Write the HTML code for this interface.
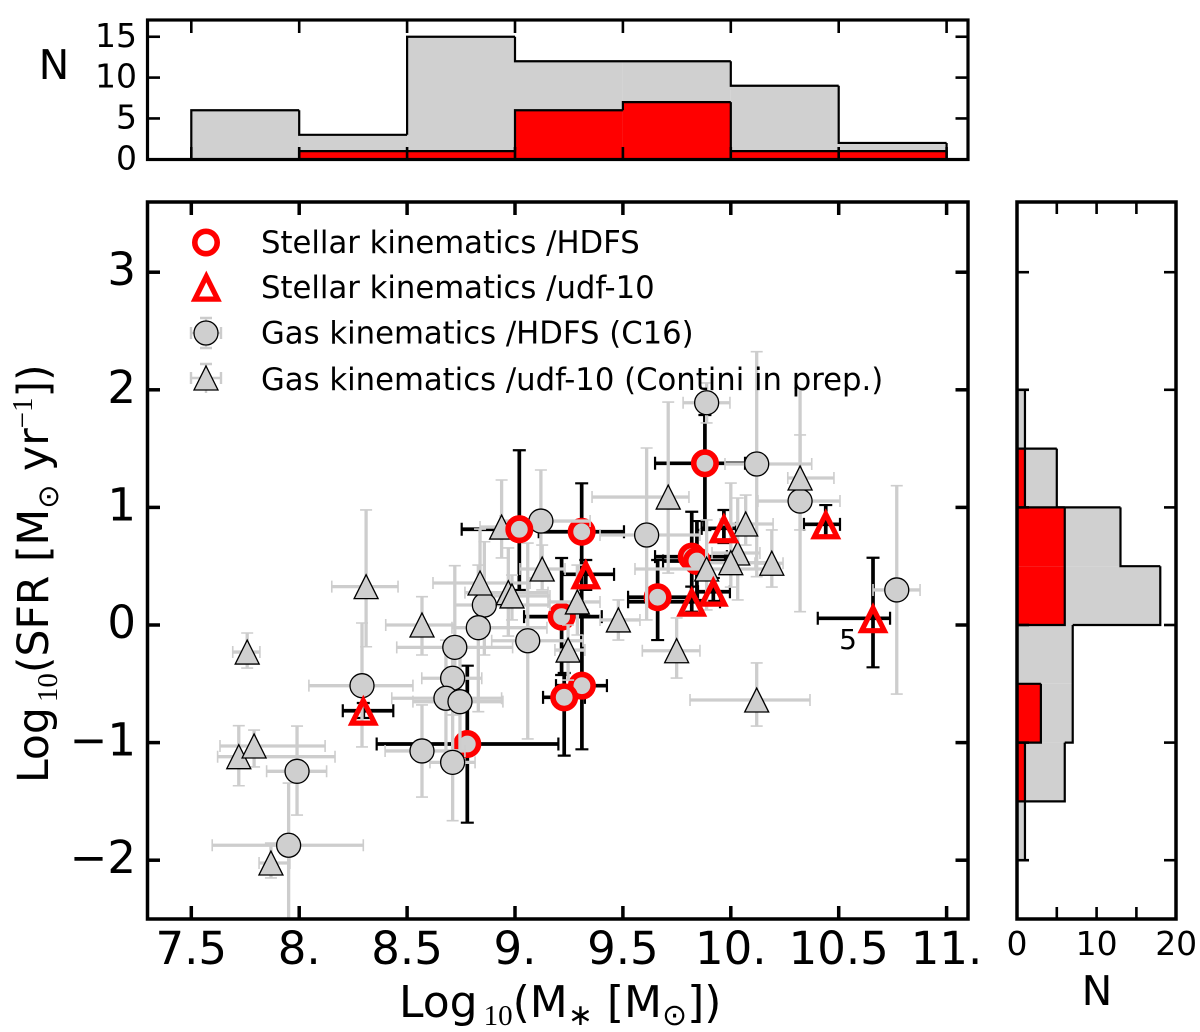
<!DOCTYPE html>
<html lang="en">
<head>
<meta charset="utf-8">
<title>Stellar mass vs SFR</title>
<style>
html,body{margin:0;padding:0;background:#fff;}
svg{display:block;}
text{font-family:"DejaVu Sans","Liberation Sans",sans-serif;fill:#000;}
.serif{font-family:"Liberation Serif",serif;}
</style>
</head>
<body>
<svg id="chart" xmlns="http://www.w3.org/2000/svg" width="1200" height="1032" viewBox="0 0 1200 1032">
  <defs>
    <clipPath id="main-clip"><rect x="147.5" y="202" width="820.5" height="717"/></clipPath>
  </defs>
  <rect x="0" y="0" width="1200" height="1032" fill="#fff"/>
  <g id="top-hist"></g>
  <g id="right-hist"></g>
  <g id="plot" clip-path="url(#main-clip)"></g>
  <g id="ticks"></g>
  <g fill="none" stroke="#000">
    <rect x="147.5" y="202" width="820.5" height="717" stroke-width="3.5"/>
    <rect x="147.5" y="20" width="820.5" height="139.5" stroke-width="3.2"/>
    <rect x="1017" y="202" width="159" height="717" stroke-width="3.5"/>
  </g>
  <g id="labels"></g>
  <text x="399" y="1017" font-size="44">Log<tspan class="serif" font-size="29" dy="8" dx="6">10</tspan><tspan dy="-8">(M</tspan><tspan font-size="30" dy="8">∗</tspan><tspan dy="-8"> [M</tspan><tspan font-size="30" dy="8">⊙</tspan><tspan dy="-8">])</tspan></text>
  <text transform="translate(48,783) rotate(-90)" font-size="42.5">Log<tspan class="serif" font-size="29" dy="9" dx="5">10</tspan><tspan dy="-9">(SFR [M</tspan><tspan font-size="29" dy="10">⊙</tspan><tspan dy="-10"> yr</tspan><tspan class="serif" font-size="29" dy="-16">−1</tspan><tspan dy="16">])</tspan></text>
  <text x="54" y="79" font-size="41" text-anchor="middle">N</text>
  <text x="1097" y="1005" font-size="41" text-anchor="middle">N</text>
  <text x="848" y="649" font-size="28" text-anchor="middle">5</text>
  <g>
    <g>
      <circle cx="206" cy="242.5" r="11.2" fill="none" stroke="#f00" stroke-width="5.6"/>
      <text x="261" y="253" font-size="30.7">Stellar kinematics /HDFS</text>
    </g>
    <g>
      <path d="M195,299.1 H217.6 L206.3,276.5 Z" fill="none" stroke="#f00" stroke-width="5.2"/>
      <text x="261" y="298" font-size="30.7">Stellar kinematics /udf-10</text>
    </g>
    <g>
      <path d="M191,333 H221 M206,318 V348 M191,327 V339 M221,327 V339 M200,318 H212 M200,348 H212" fill="none" stroke="#ccc" stroke-width="2.4"/>
      <circle cx="206" cy="333" r="12" fill="#cfcfcf" stroke="#000" stroke-width="1.3"/>
      <text x="261" y="343.5" font-size="30.7">Gas kinematics /HDFS (C16)</text>
    </g>
    <g>
      <path d="M191,378 H221 M206,364 V393 M191,372 V384 M221,372 V384 M200,364 H212" fill="none" stroke="#ccc" stroke-width="2.4"/>
      <path d="M194,390 H218 L206,366 Z" fill="#cfcfcf" stroke="#000" stroke-width="1.3"/>
      <text x="261" y="390" font-size="30.7">Gas kinematics /udf-10 (Contini in prep.)</text>
    </g>
  </g>
</svg>
<script>
// ---------- data (log stellar mass, log SFR, and error-bar bounds) ----------
const stellarHdfsMass   = [9.02, 9.309, 9.88, 9.819, 9.843, 9.661, 9.216, 9.31, 9.228, 8.779];
const stellarHdfsSfr    = [0.814, 0.793, 1.375, 0.581, 0.544, 0.236, 0.071, -0.516, -0.615, -1.012];
const stellarHdfsMassLo = [8.753, 9.11, 9.649, 9.649, 9.686, 9.524, 9.042, 9.19, 9.13, 8.359];
const stellarHdfsMassHi = [9.116, 9.505, 10.066, 9.982, 9.973, 9.811, 9.402, 9.426, 9.324, 9.201];
const stellarHdfsSfrHi  = [1.486, 1.205, 1.786, 0.963, 0.884, 0.553, 0.57, 0.085, -0.408, -0.346];
const stellarHdfsSfrLo  = [0.298, 0.128, 0.808, 0.204, 0.213, -0.128, -0.425, -1.057, -1.111, -1.681];

const stellarUdfMass   = [8.297, 9.328, 9.819, 9.919, 9.968, 10.44, 10.659];
const stellarUdfSfr    = [-0.729, 0.431, 0.198, 0.283, 0.822, 0.856, 0.057];
const stellarUdfMassLo = [8.202, 9.218, 9.524, 9.848, 9.865, 10.339, 10.403];
const stellarUdfMassHi = [8.436, 9.459, 9.95, 9.996, 10.024, 10.506, 10.738];
const stellarUdfSfrHi  = [-0.663, 0.553, 0.326, 0.4, 0.978, 1.02, 0.572];
const stellarUdfSfrLo  = [-0.791, 0.298, 0.113, 0.187, 0.697, 0.751, -0.36];

const gasHdfsMass   = [9.888, 10.12, 10.321, 9.61, 10.769, 9.12, 8.858, 8.83, 9.059, 8.721, 8.711, 8.68, 8.745, 8.291, 8.569, 8.711, 7.99, 7.951];
const gasHdfsSfr    = [1.89, 1.369, 1.054, 0.765, 0.298, 0.884, 0.17, -0.023, -0.134, -0.19, -0.453, -0.623, -0.652, -0.516, -1.071, -1.168, -1.244, -1.873];
const gasHdfsMassLo = [9.779, 9.973, 10.126, 9.394, 10.659, 8.931, 8.722, 8.708, 8.892, 8.452, 8.568, 8.429, 8.527, 8.045, 8.398, 8.606, 7.849, 7.597];
const gasHdfsMassHi = [9.996, 10.375, 10.506, 9.857, 10.877, 9.348, 9.162, 9.148, 9.315, 8.989, 8.846, 8.938, 8.944, 8.527, 8.768, 8.815, 8.127, 8.297];
const gasHdfsSfrHi  = [2.058, 2.324, 1.616, 1.505, 1.185, 1.318, 0.708, 0.51, 0.697, 0.504, -0.128, -0.128, -0.213, 0.017, -0.68, -0.765, -0.859, -1.344];
const gasHdfsSfrLo  = [1.718, 0.411, 0.113, 0.043, -0.587, 0.468, -0.255, -0.737, -0.969, -0.638, -0.765, -1.148, -1.063, -1.037, -1.463, -1.664, -1.616, -2.594];

const gasUdfMass   = [7.759, 8.31, 8.569, 8.838, 8.938, 8.969, 8.986, 9.126, 9.289, 9.246, 9.479, 9.749, 10.12, 9.71, 10.321, 10.069, 10.032, 10.0, 10.19, 9.888, 7.72, 7.791, 7.869];
const gasUdfSfr    = [-0.23, 0.326, 0, 0.357, 0.833, 0.275, 0.247, 0.476, 0.196, -0.213, 0.043, -0.219, -0.638, 1.088, 1.25, 0.859, 0.612, 0.53, 0.525, 0.476, -1.12, -1.029, -2.024];
const gasUdfMassLo = [7.692, 8.151, 8.401, 8.62, 8.838, 8.768, 8.815, 9.023, 9.153, 9.185, 9.394, 9.59, 9.811, 9.357, 10.264, 9.95, 9.913, 9.857, 10.112, 9.556, 7.622, 7.633, 7.814];
const gasUdfMassHi = [7.818, 8.458, 8.722, 9.07, 9.023, 9.153, 9.162, 9.232, 9.394, 9.324, 9.579, 9.857, 10.367, 9.806, 10.478, 10.196, 10.135, 10.196, 10.242, 10.228, 8.166, 8.12, 7.957];
const gasUdfSfrHi  = [-0.068, 0.978, 0.241, 0.816, 1.233, 0.655, 0.425, 0.68, 0.51, 0, 0.213, 0.06, -0.323, 1.896, 2.015, 1.105, 1.08, 1.207, 0.808, 0.893, -0.856, -0.893, -1.854];
const gasUdfSfrLo  = [-0.366, -0.185, -0.255, 0, 0.57, -0.094, 0.043, 0.298, -0.085, -0.468, -0.128, -0.451, -0.859, 0.442, 0.808, 0.68, 0.213, 0.323, 0.323, 0.128, -1.367, -1.207, -2.151];

const massBinEdges  = [7.5, 8, 8.5, 9, 9.5, 10, 10.5, 11];
const massCountsAll = [6, 3, 15, 12, 12, 9, 2];
const massCountsStellar = [0, 1, 1, 6, 7, 1, 1];

const sfrBinEdges  = [-2, -1.5, -1, -0.5, 0, 0.5, 1, 1.5, 2];
const sfrCountsAll = [1, 6, 7, 7, 18, 13, 5, 1];
const sfrCountsStellar = [0, 1, 3, 0, 6, 6, 1, 0];

const massTicks = [7.5, 8, 8.5, 9, 9.5, 10, 10.5, 11];
const massTickLabels = ["7.5", "8.", "8.5", "9.", "9.5", "10.", "10.5", "11."];
const sfrTicks = [3, 2, 1, 0, -1, -2];
const sfrTickLabels = ["3", "2", "1", "0", "−1", "−2"];
const countTicks = [0, 5, 10, 15];
const countTickLabels = ["0", "5", "10", "15"];
const rightCountTicks = [5, 10, 15];
const rightCountLabelValues = [0, 10, 20];
const rightCountLabels = ["0", "10", "20"];

// ---------- axis functions ----------
const xScale = v => 191.3 + (v - 7.5) * 215.8;
const yScale = v => 625 - v * 117.6;
const topCountY = v => 159.3 - v * 8.17;
const rightCountX = v => 1017 + v * 7.96;

const NS = 'http://www.w3.org/2000/svg';
function mk(parent, tag, attrs) {
  const e = document.createElementNS(NS, tag);
  for (const k in attrs) e.setAttribute(k, attrs[k]);
  parent.appendChild(e);
  return e;
}
const plot = document.getElementById('plot');
const tickLayer = document.getElementById('ticks');
const labelLayer = document.getElementById('labels');
const topHist = document.getElementById('top-hist');
const rightHist = document.getElementById('right-hist');

function errorPath(x, y, xl, xh, yh, yl, cap) {
  const X = xScale(x), Y = yScale(y), XL = xScale(xl), XH = xScale(xh), YH = yScale(yh), YL = yScale(yl);
  return {
    lines: `M${XL},${Y}H${XH}M${X},${YH}V${YL}`,
    caps: `M${XL},${Y - cap}V${Y + cap}M${XH},${Y - cap}V${Y + cap}M${X - cap},${YH}H${X + cap}M${X - cap},${YL}H${X + cap}`
  };
}

function drawErrors(xs, ys, xls, xhs, yhs, yls, color, lw, capw, cap, label) {
  xs.forEach((x, i) => {
    const p = errorPath(x, ys[i], xls[i], xhs[i], yhs[i], yls[i], cap);
    const line = mk(plot, 'path', {d: p.lines, fill: 'none', stroke: color, 'stroke-width': lw});
    
    
    const caps = mk(plot, 'path', {d: p.caps, fill: 'none', stroke: color, 'stroke-width': capw});
    
    
  });
}

function drawCircles(xs, ys, r, fill, stroke, sw, label) {
  xs.forEach((x, i) => {
    const c = mk(plot, 'circle', {cx: xScale(x), cy: yScale(ys[i]), r: r, fill: fill, stroke: stroke, 'stroke-width': sw});
    
    
  });
}

function drawTriangles(xs, ys, halfW, up, down, fill, stroke, sw, label) {
  xs.forEach((x, i) => {
    const X = xScale(x), Y = yScale(ys[i]);
    const t = mk(plot, 'path', {d: `M${X - halfW},${Y + down}H${X + halfW}L${X},${Y - up}Z`, fill: fill, stroke: stroke, 'stroke-width': sw});
    
    
  });
}

// ---------- scatter ----------
drawErrors(stellarHdfsMass, stellarHdfsSfr, stellarHdfsMassLo, stellarHdfsMassHi, stellarHdfsSfrHi, stellarHdfsSfrLo, '#000', 3.7, 2.2, 6.5, 'stellar-hdfs');
drawErrors(stellarUdfMass, stellarUdfSfr, stellarUdfMassLo, stellarUdfMassHi, stellarUdfSfrHi, stellarUdfSfrLo, '#000', 3.7, 2.2, 6.5, 'stellar-udf');
drawCircles(stellarHdfsMass, stellarHdfsSfr, 11.2, '#cfcfcf', '#f00', 5.6, 'stellar-hdfs');
drawErrors(gasHdfsMass, gasHdfsSfr, gasHdfsMassLo, gasHdfsMassHi, gasHdfsSfrHi, gasHdfsSfrLo, '#cdcdcd', 3.3, 1.6, 6, 'gas-hdfs');
drawErrors(gasUdfMass, gasUdfSfr, gasUdfMassLo, gasUdfMassHi, gasUdfSfrHi, gasUdfSfrLo, '#cdcdcd', 3.3, 1.6, 6, 'gas-udf');
drawCircles(gasHdfsMass, gasHdfsSfr, 12, '#cfcfcf', '#000', 1.3, 'gas-hdfs');
drawTriangles(gasUdfMass, gasUdfSfr, 12, 12, 12, '#cfcfcf', '#000', 1.3, 'gas-udf');
drawCircles(stellarHdfsMass.slice(0, 1), stellarHdfsSfr.slice(0, 1), 11.2, '#cfcfcf', '#f00', 5.6, 'stellar-hdfs-front');
drawTriangles(stellarUdfMass, stellarUdfSfr, 11.3, 10.2, 12.4, 'none', '#f00', 5.2, 'stellar-udf');

// ---------- histograms ----------
function drawTopHist(edges, counts, fill, label) {
  counts.forEach((n, i) => {
    if (!n) return;
    const b = mk(topHist, 'rect', {
      x: xScale(edges[i]), y: topCountY(n),
      width: xScale(edges[i + 1]) - xScale(edges[i]), height: topCountY(0) - topCountY(n),
      fill: fill, stroke: 'none'
    });
    
    
  });
  let d = '';
  counts.forEach((n, i) => {
    const prev = i ? counts[i - 1] : 0;
    d += `M${xScale(edges[i])},${topCountY(prev)}V${topCountY(n)}`;
    if (n) d += `H${xScale(edges[i + 1])}`; else d += `M${xScale(edges[i + 1])},${topCountY(n)}`;
  });
  d += `M${xScale(edges[edges.length - 1])},${topCountY(counts[counts.length - 1])}V${topCountY(0)}`;
  const o = mk(topHist, 'path', {d: d, fill: 'none', stroke: '#000', 'stroke-width': 2.2});
  
  
}

function drawRightHist(edges, counts, fill, label) {
  counts.forEach((n, i) => {
    if (!n) return;
    const b = mk(rightHist, 'rect', {
      x: rightCountX(0), y: yScale(edges[i + 1]),
      width: rightCountX(n) - rightCountX(0), height: yScale(edges[i]) - yScale(edges[i + 1]),
      fill: fill, stroke: 'none'
    });
    
    
  });
  let d = '';
  counts.forEach((n, i) => {
    const prev = i ? counts[i - 1] : 0;
    d += `M${rightCountX(prev)},${yScale(edges[i])}H${rightCountX(n)}`;
    if (n) d += `V${yScale(edges[i + 1])}`; else d += `M${rightCountX(n)},${yScale(edges[i + 1])}`;
  });
  d += `M${rightCountX(counts[counts.length - 1])},${yScale(edges[edges.length - 1])}H${rightCountX(0)}`;
  const o = mk(rightHist, 'path', {d: d, fill: 'none', stroke: '#000', 'stroke-width': 2.2});
  
  
}

drawTopHist(massBinEdges, massCountsAll, '#d0d0d0', 'all');
drawTopHist(massBinEdges, massCountsStellar, '#ff0000', 'stellar');
drawRightHist(sfrBinEdges, sfrCountsAll, '#d0d0d0', 'all');
drawRightHist(sfrBinEdges, sfrCountsStellar, '#ff0000', 'stellar');

// ---------- ticks ----------
function tick(x1, y1, x2, y2, w, name) {
  const t = mk(tickLayer, 'line', {x1: x1, y1: y1, x2: x2, y2: y2, stroke: '#000', 'stroke-width': w});
  
  
}
massTicks.forEach(v => {
  const X = xScale(v);
  tick(X, 202, X, 215, 3.5, 'main-x-tick-top');
  tick(X, 919, X, 906, 3.5, 'main-x-tick-bottom');
  tick(X, 20, X, 33, 2.6, 'top-x-tick-top');
  tick(X, 159.5, X, 147, 2.6, 'top-x-tick-bottom');
});
sfrTicks.forEach(v => {
  const Y = yScale(v);
  tick(147.5, Y, 160, Y, 3.5, 'main-y-tick-left');
  tick(968, Y, 955.5, Y, 3.5, 'main-y-tick-right');
  tick(1017, Y, 1029, Y, 2.6, 'right-y-tick-left');
  tick(1176, Y, 1164, Y, 2.6, 'right-y-tick-right');
});
countTicks.slice(1).forEach(v => {
  const Y = topCountY(v);
  tick(147.5, Y, 160, Y, 2.6, 'top-y-tick-left');
  tick(968, Y, 955.5, Y, 2.6, 'top-y-tick-right');
});
rightCountTicks.forEach(v => {
  const X = rightCountX(v);
  tick(X, 202, X, 214, 2.6, 'right-x-tick-top');
  tick(X, 919, X, 907, 2.6, 'right-x-tick-bottom');
});

// ---------- tick labels ----------
function label(x, y, str, size, anchor, name) {
  const t = mk(labelLayer, 'text', {x: x, y: y, 'font-size': size, 'text-anchor': anchor});
  t.textContent = str;
  
  
}
massTicks.forEach((v, i) => label(xScale(v), 964, massTickLabels[i], 45, 'middle', 'main-x-tick-label'));
sfrTicks.forEach((v, i) => label(136, yScale(v) + 13, sfrTickLabels[i], 45, 'end', 'main-y-tick-label'));
countTicks.forEach((v, i) => label(137, topCountY(v) + 10, countTickLabels[i], 33, 'end', 'top-y-tick-label'));
rightCountLabelValues.forEach((v, i) => label(rightCountX(v), 955, rightCountLabels[i], 33, 'middle', 'right-x-tick-label'));
</script>
</body>
</html>
